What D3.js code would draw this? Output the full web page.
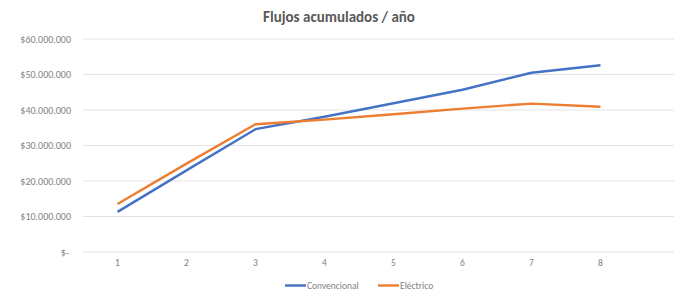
<!DOCTYPE html>
<html><head><meta charset="utf-8">
<script src="https://cdn.jsdelivr.net/npm/d3@7"></script>
<style>html,body{margin:0;padding:0;background:#fff;}svg{display:block;}</style>
</head><body>
<script>
const categories = ["1","2","3","4","5","6","7","8"];
const convencional = [11300000, 23000000, 34600000, 38100000, 41900000, 45700000, 50500000, 52600000];
const electrico = [13500000, 24900000, 36000000, 37300000, 38800000, 40400000, 41800000, 40900000];
const yTicks = [0, 10000000, 20000000, 30000000, 40000000, 50000000, 60000000];
const seriesNames = ["Convencional", "Eléctrico"];
const colors = ["#4472C4", "#ED7D31"];
const title = "Flujos acumulados / año";

const W = 674, H = 296;
const svg = d3.select("body").append("svg").attr("width", W).attr("height", H);
const font = "Calibri, Carlito, 'Open Sans', 'Liberation Sans', sans-serif";

const x = d3.scaleBand().domain(categories).range([83, 635]);
const y = d3.scaleLinear().domain([0, 60000000]).range([252, 39]);

// gridlines
svg.append("g").selectAll("line").data(yTicks).join("line")
  .attr("x1", 83).attr("x2", W).attr("y1", d => y(d)).attr("y2", d => y(d))
  .attr("stroke", "#e3e3e3").attr("stroke-width", 1);

const fmt = d => d === 0 ? "$-" : "$" + d3.format(",")(d).replace(/,/g, ".");
// y labels
const yAxis = d3.axisLeft(y).tickValues(yTicks).tickFormat(fmt).tickSize(0).tickPadding(0);
const gy = svg.append("g").attr("transform", "translate(71,0)").call(yAxis);
gy.select(".domain").remove();
gy.selectAll("text").attr("fill", "#7f7f7f").attr("font-size", 10).attr("font-family", font)
  .attr("dx", d => d === 0 ? -2 : 0);

// x labels
const xAxis = d3.axisBottom(x).tickSize(0).tickPadding(0);
const gx = svg.append("g").attr("transform", "translate(0,259)").call(xAxis);
gx.select(".domain").remove();
gx.selectAll("text").attr("fill", "#7f7f7f").attr("font-size", 9.5).attr("font-family", font);

// lines
const line = d3.line().x((d, i) => x(categories[i]) + x.bandwidth() / 2).y(d => y(d));
[convencional, electrico].forEach((s, k) => {
  svg.append("path").datum(s).attr("d", line).attr("fill", "none")
    .attr("stroke", colors[k]).attr("stroke-width", 2.4).attr("stroke-linejoin", "round");
});

// title
svg.append("text").attr("x", 339).attr("y", 22).attr("text-anchor", "middle")
  .attr("font-family", font).attr("font-size", 15).attr("font-weight", 600).attr("fill", "#595959")
  .text(title);

// legend
const legendX = [285, 378];
seriesNames.forEach((n, k) => {
  svg.append("line").attr("x1", legendX[k]).attr("x2", legendX[k] + 21)
    .attr("y1", 285.5).attr("y2", 285.5).attr("stroke", colors[k]).attr("stroke-width", 2.4);
  svg.append("text").attr("x", legendX[k] + 22).attr("y", 289).attr("font-family", font)
    .attr("font-size", 9.5).attr("fill", "#7f7f7f").text(n);
});
</script>
</body></html>
